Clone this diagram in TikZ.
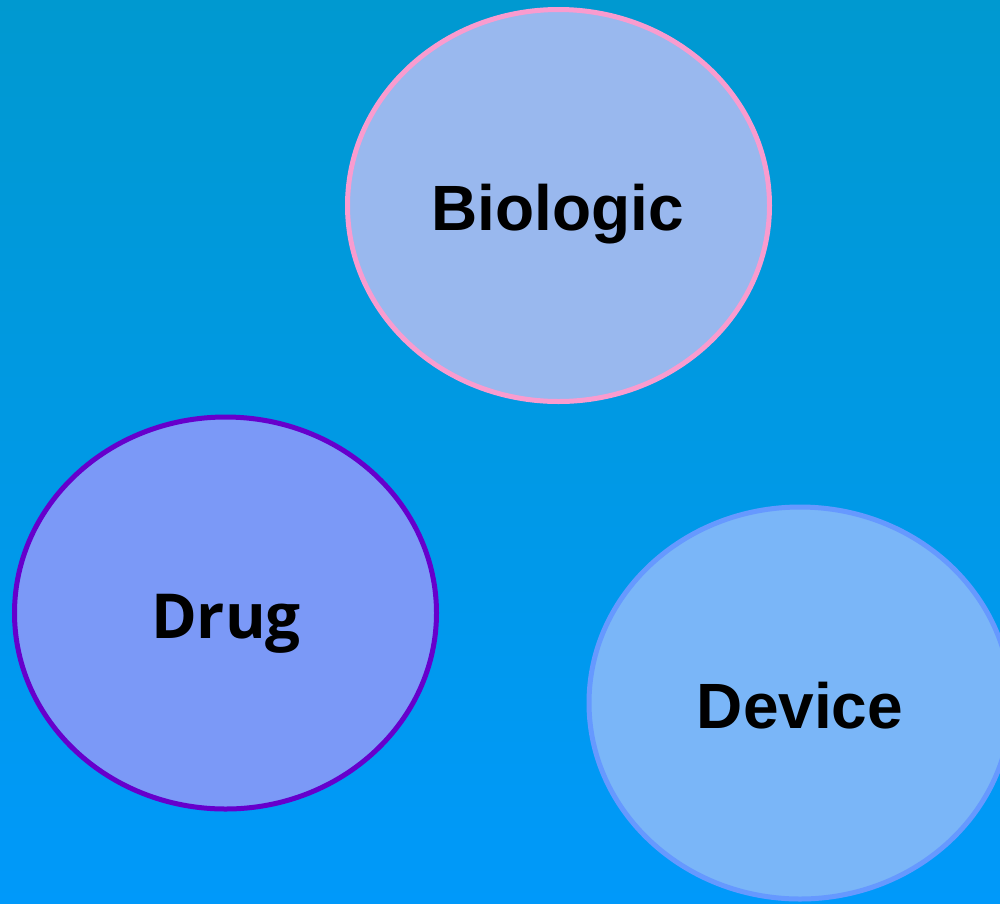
\documentclass[tikz,border=0pt]{standalone}
\usepackage{fontspec}
\setmainfont{Liberation Sans}
\newfontfamily\drugfont{Open Sans}
\usetikzlibrary{shapes.geometric}
\definecolor{bgtop}{RGB}{0,153,208}
\definecolor{bgbot}{RGB}{0,153,250}
\definecolor{bioFill}{RGB}{153,184,238}
\definecolor{bioLine}{RGB}{249,156,207}
\definecolor{drugFill}{RGB}{123,153,247}
\definecolor{drugLine}{RGB}{102,0,204}
\definecolor{devFill}{RGB}{122,182,248}
\definecolor{devLine}{RGB}{102,153,255}
\tikzset{
  blob/.style={ellipse, minimum width=422pt, minimum height=392pt, inner sep=0pt},
  lbl/.style={anchor=base, inner sep=0pt, font=\bfseries\fontsize{64}{64}\selectfont},
}
\begin{document}
\begin{tikzpicture}[x=1pt,y=-1pt]
\useasboundingbox (0,0) rectangle (1000,903);
\shade[top color=bgtop, bottom color=bgbot] (0,0) rectangle (1000,903);
\node[blob, fill=bioFill, draw=bioLine, line width=5pt] (bio) at (558.5,205.5) {};
\node[blob, fill=drugFill, draw=drugLine, line width=5pt] (drug) at (225.5,613) {};
\node[blob, fill=devFill, draw=devLine, line width=5pt] (dev) at (800,703) {};
\node[lbl] (biot) at (558,230) {Biologic};
\node[lbl, font=\drugfont\bfseries\fontsize{62}{62}\selectfont] (drugt) at (226,638) {Drug};
\node[lbl] (devt) at (800,728) {Device};
\end{tikzpicture}
\end{document}
